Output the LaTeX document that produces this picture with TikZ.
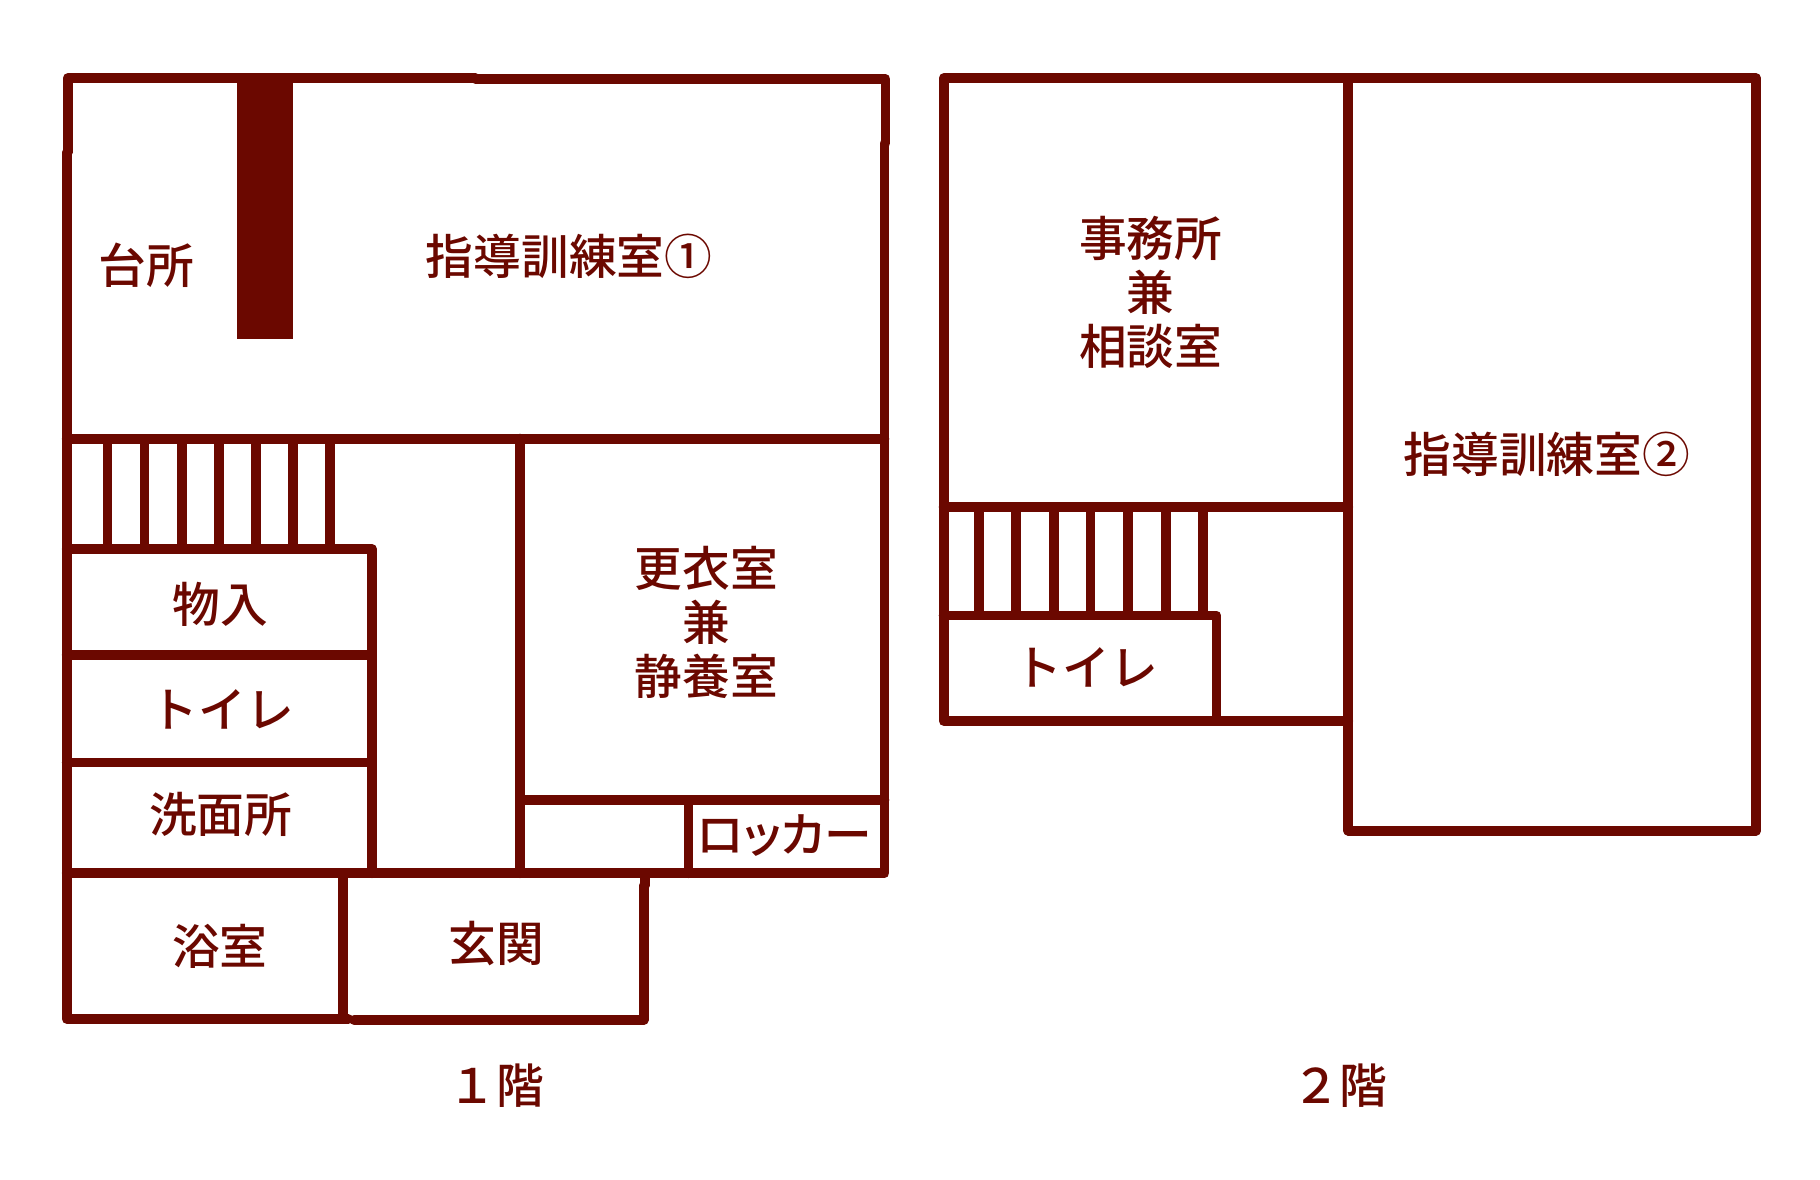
\documentclass[tikz,border=0pt]{standalone}
\usepackage{fontspec}
\setmainfont{Noto Sans CJK JP Medium}
\definecolor{wallc}{HTML}{6B0800}
\tikzset{
  wall/.style={draw=wallc,line width=9.8pt,line cap=round,line join=round},
  stair/.style={draw=wallc,line width=9.8pt,line cap=butt},
  lab/.style={text=wallc,inner sep=0pt,outer sep=0pt,align=center,font=\fontsize{47.7}{54}\selectfont}
}
\begin{document}
\begin{tikzpicture}[x=1pt,y=-1pt]
\useasboundingbox (0,0) rectangle (1820,1180);
% Floor 1 outline
\draw[wall] (67.6,152.3) -- (67.6,78.2) -- (475.5,78.2);
\draw[wall] (475.5,78.9) -- (885.4,78.9) -- (885.4,143.3);
\draw[wall] (884.4,143.3) -- (884.4,873.2) -- (66.7,873.2);
\draw[wall] (66.7,152.3) -- (66.7,1019) -- (348.2,1019);
\draw[wall] (354.1,1020) -- (643.6,1020) -- (643.6,885.5);
\draw[wall] (644.6,885.5) -- (644.6,873.2);
% Floor 1 pillar
\fill[wallc] (236.8,78.2) rectangle (293,339.4);
% Floor 1 inner walls
\draw[wall] (66.7,438.6) -- (884.4,438.6);
\draw[wall] (66.7,549) -- (372,549) -- (372,873.2);
\draw[wall] (66.7,654.7) -- (372,654.7);
\draw[wall] (66.7,762.5) -- (372,762.5);
\draw[wall] (520,438.6) -- (520,873.2);
\draw[wall] (520,800.2) -- (884.4,800.2);
\draw[wall] (688.4,800.2) -- (688.4,873.2);
\draw[wall] (343,873.2) -- (343,1019);
% Floor 1 stairs
\foreach \sx in {107.4,144.5,182.2,218.9,256,293,330.3}
  \draw[stair] (\sx,438.6) -- (\sx,549);
% Floor 2 walls
\draw[wall] (1348.2,830.6) -- (1756.2,830.6) -- (1756.2,78.2) -- (943.6,78.2) -- (943.6,721) -- (1348.2,721);
\draw[wall] (1348.2,78.2) -- (1348.2,830.6);
\draw[wall] (943.6,506.8) -- (1348.2,506.8);
\draw[wall] (943.6,615.5) -- (1216.4,615.5) -- (1216.4,721);
\foreach \sx in {979,1015.7,1054,1090.5,1127.7,1166,1203}
  \draw[stair] (\sx,506.8) -- (\sx,615.5);
% Labels floor 1
\node[lab] (kitchen) at (146.2,265) {台所};
\node[lab] (train1) at (569,256.3) {指導訓練室①};
\node[lab] (locker1) at (706.3,622.3) {更衣室\\兼\\静養室};
\node[lab] (store) at (220.6,604.2) {物入};
\node[lab] (wc1) at (222.2,709.5) {トイレ};
\node[lab] (wash) at (220.8,814.5) {洗面所};
\node[lab] (bath) at (219.9,946) {浴室};
\node[lab] (entry) at (496,944) {玄関};
\node[lab] (locker2) at (784.5,835.8) {\addfontfeature{RawFeature=+palt}ロッカー};
\node[lab] (f1) at (496,1085.5) {１階};
% Labels floor 2
\node[lab] (office) at (1150.7,292.2) {事務所\\兼\\相談室};
\node[lab] (train2) at (1546.7,454.2) {指導訓練室②};
\node[lab] (wc2) at (1086.5,667.5) {トイレ};
\node[lab] (f2) at (1339.8,1085.5) {２階};
\end{tikzpicture}
\end{document}
